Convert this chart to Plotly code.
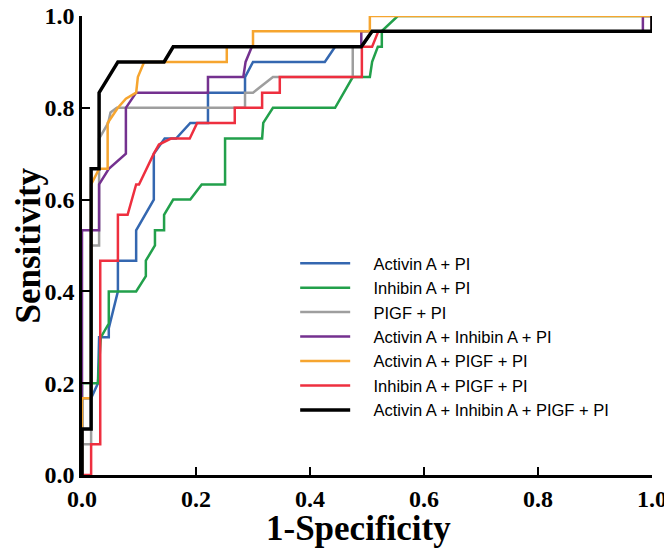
import plotly.graph_objects as go

# %% ROC curve points (1-Specificity, Sensitivity)
activin_x = [0, 0, 0.016, 0.028, 0.03, 0.047, 0.047, 0.063, 0.063, 0.095, 0.095, 0.126, 0.126,
             0.145, 0.165, 0.19, 0.221, 0.221, 0.286, 0.286, 0.3, 0.426, 0.444, 0.491, 0.509, 1.0, 1.0]
activin_y = [0, 0.167, 0.167, 0.2, 0.3, 0.3, 0.32, 0.4, 0.467, 0.467, 0.533, 0.6, 0.7,
             0.733, 0.733, 0.767, 0.767, 0.833, 0.833, 0.867, 0.9, 0.9, 0.933, 0.933, 0.967, 0.967, 1.0]

inhibin_x = [0, 0, 0.028, 0.033, 0.047, 0.047, 0.095, 0.112, 0.112, 0.128, 0.128, 0.144, 0.144,
             0.16, 0.19, 0.21, 0.251, 0.251, 0.316, 0.318, 0.335, 0.444, 0.475, 0.505, 0.509,
             0.519, 0.526, 0.526, 0.554, 1.0]
inhibin_y = [0, 0.2, 0.2, 0.3, 0.33, 0.4, 0.4, 0.433, 0.467, 0.5, 0.533, 0.533, 0.567,
             0.6, 0.6, 0.633, 0.633, 0.733, 0.733, 0.767, 0.8, 0.8, 0.867, 0.867, 0.9,
             0.933, 0.933, 0.967, 1.0, 1.0]

pigf_x = [0, 0, 0.016, 0.016, 0.03, 0.03, 0.046, 0.05, 0.061, 0.286, 0.286, 0.3, 0.335,
          0.475, 0.475, 0.491, 0.509, 1.0, 1.0]
pigf_y = [0, 0.067, 0.067, 0.5, 0.5, 0.733, 0.767, 0.79, 0.8, 0.8, 0.833, 0.833, 0.867,
          0.867, 0.933, 0.933, 0.967, 0.967, 1.0]

act_inh_x = [0, 0, 0.03, 0.03, 0.047, 0.077, 0.077, 0.095, 0.221, 0.221, 0.283, 0.287, 0.298,
             0.49, 0.49, 0.984, 0.984, 1.0]
act_inh_y = [0, 0.533, 0.533, 0.633, 0.667, 0.7, 0.8, 0.833, 0.833, 0.867, 0.867, 0.9, 0.933,
             0.933, 0.967, 0.967, 1.0, 1.0]

act_pigf_x = [0, 0, 0.016, 0.016, 0.03, 0.045, 0.045, 0.063, 0.077, 0.095, 0.098, 0.109,
              0.254, 0.254, 0.3, 0.3, 0.505, 0.505, 1.0]
act_pigf_y = [0, 0.167, 0.167, 0.633, 0.667, 0.667, 0.767, 0.8, 0.82, 0.833, 0.867, 0.9,
              0.9, 0.933, 0.933, 0.967, 0.967, 1.0, 1.0]

inh_pigf_x = [0, 0.016, 0.016, 0.032, 0.032, 0.063, 0.063, 0.08, 0.095, 0.1, 0.126, 0.135,
              0.156, 0.189, 0.202, 0.268, 0.268, 0.316, 0.316, 0.347, 0.347, 0.491, 0.491,
              0.509, 0.52, 1.0, 1.0]
inh_pigf_y = [0, 0, 0.067, 0.067, 0.467, 0.467, 0.567, 0.567, 0.633, 0.633, 0.7, 0.72,
              0.733, 0.733, 0.767, 0.767, 0.8, 0.8, 0.833, 0.833, 0.867, 0.867, 0.933,
              0.933, 0.967, 0.967, 1.0]

all_x = [0, 0, 0.016, 0.016, 0.03, 0.03, 0.063, 0.144, 0.16, 0.49, 0.509, 1.0, 1.0]
all_y = [0, 0.1, 0.1, 0.667, 0.667, 0.833, 0.9, 0.9, 0.933, 0.933, 0.967, 0.967, 1.0]

tick_vals = [0, 0.2, 0.4, 0.6, 0.8, 1.0]

curves = [
    ("Activin A + PI", activin_x, activin_y, "#3467b0", 2.5),
    ("Inhibin A + PI", inhibin_x, inhibin_y, "#22a04b", 2.5),
    ("PIGF + PI", pigf_x, pigf_y, "#9e9e9e", 2.5),
    ("Activin A + Inhibin A + PI", act_inh_x, act_inh_y, "#74318f", 2.5),
    ("Activin A + PIGF + PI", act_pigf_x, act_pigf_y, "#f6a52f", 2.5),
    ("Inhibin A + PIGF + PI", inh_pigf_x, inh_pigf_y, "#ee2f3f", 2.5),
    ("Activin A + Inhibin A + PIGF + PI", all_x, all_y, "#000000", 3.5),
]

fig = go.Figure()
for name, xs, ys, color, w in curves:
    fig.add_trace(
        go.Scatter(x=xs, y=ys, mode="lines", name="\u00a0" * 4 + name,
                   line=dict(color=color, width=w), cliponaxis=False)
    )

axis_font = dict(family="Liberation Serif", size=24, color="black", weight="bold")
title_font = dict(family="Liberation Serif", size=35, color="black", weight="bold")

common = dict(
    range=[0, 1], tickvals=tick_vals, tickformat=".1f", automargin=False,
    ticklabeloverflow="allow",
    showline=True, linecolor="black", linewidth=2.5, ticks="inside", ticklen=8,
    tickwidth=2, tickcolor="black", showgrid=False, zeroline=False, tickfont=axis_font,
)
fig.update_xaxes(**common)
fig.update_yaxes(**common)

# axis titles placed as annotations so they sit as tight as in the original
fig.add_annotation(text="1-Specificity", xref="paper", yref="paper", x=0.485, y=0,
                   yshift=-53, showarrow=False, font=title_font, yanchor="middle")
fig.add_annotation(text="Sensitivity", xref="paper", yref="paper", x=0, y=0.5,
                   xshift=-54, textangle=-90, showarrow=False, font=title_font,
                   xanchor="center")

fig.update_layout(
    width=664, height=540,
    margin=dict(l=74, r=20, t=8, b=73),
    plot_bgcolor="white", paper_bgcolor="white",
    legend=dict(x=0.374, y=0.499, xanchor="left", yanchor="top",
                font=dict(family="Liberation Sans", size=16.5, color="black"),
                itemwidth=50, bgcolor="rgba(0,0,0,0)"),
)
fig.write_html("out.html")
